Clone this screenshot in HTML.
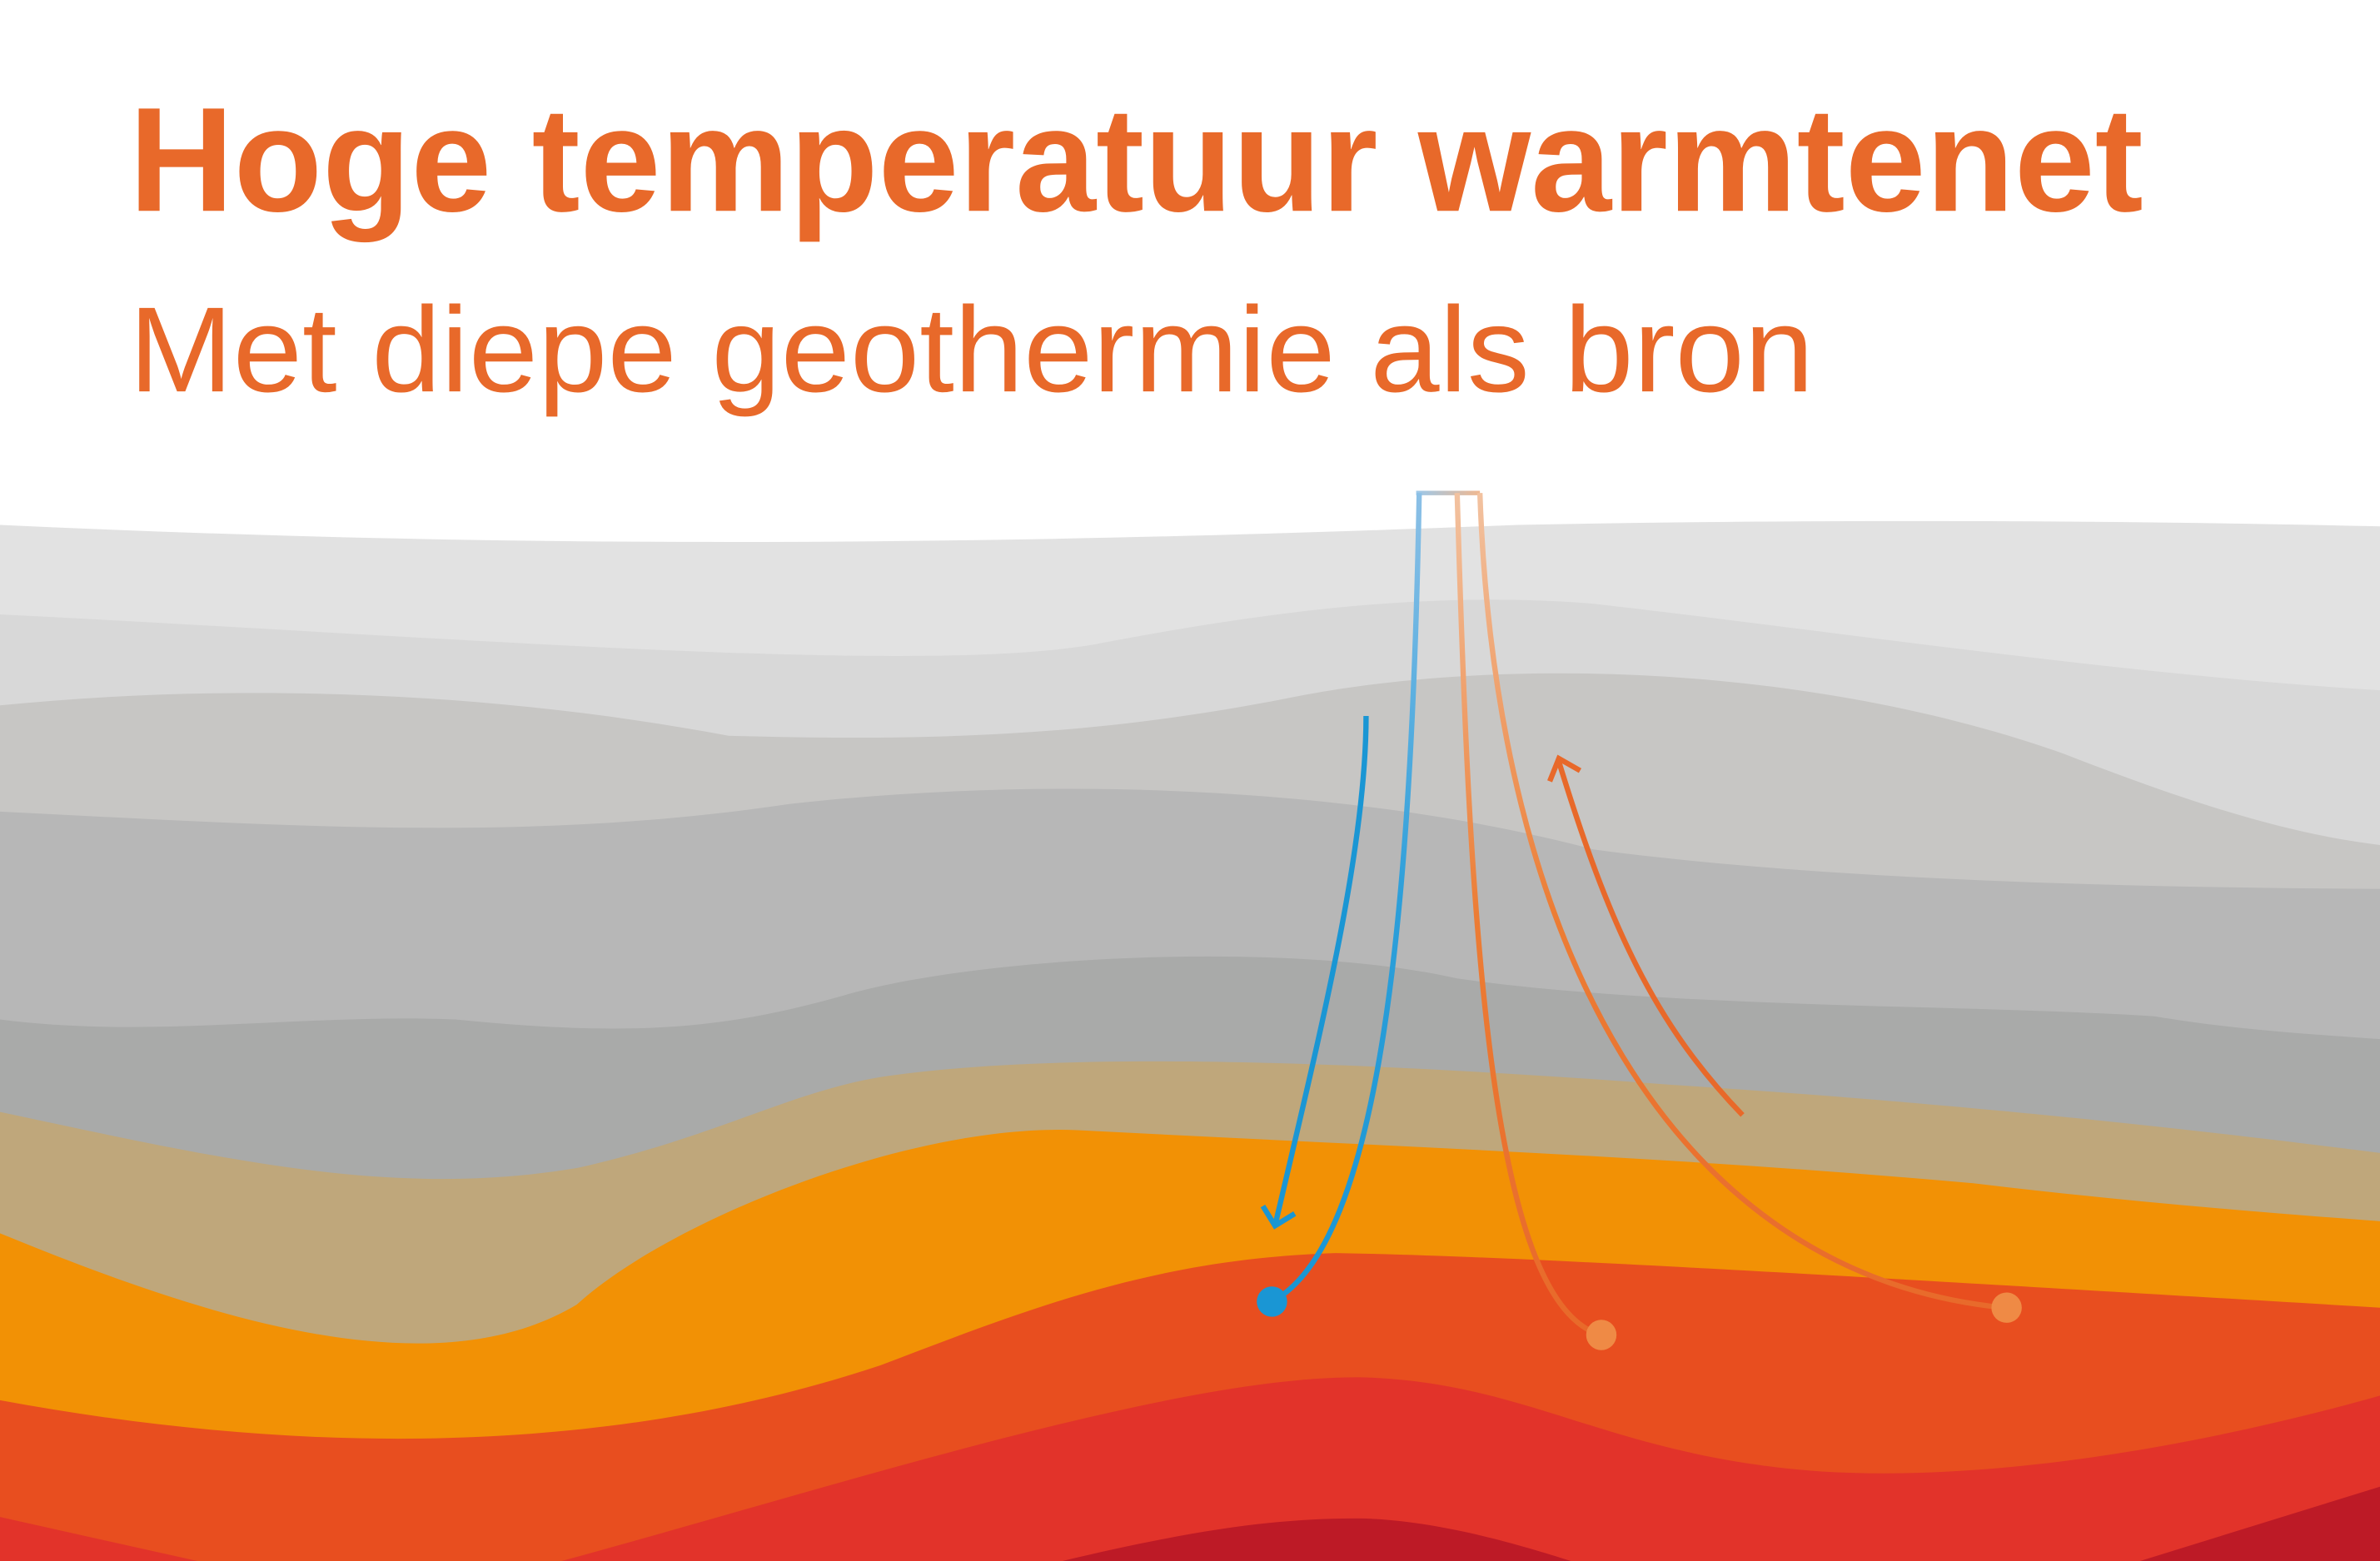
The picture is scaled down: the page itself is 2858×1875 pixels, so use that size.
<!DOCTYPE html>
<html><head><meta charset="utf-8"><style>
html,body{margin:0;padding:0;background:#fff;}
svg{display:block;}
</style></head><body>
<svg width="2858" height="1875" viewBox="0 0 1568 1029" preserveAspectRatio="none" xmlns="http://www.w3.org/2000/svg">
<defs>
<linearGradient id="gBlue" x1="0" y1="325" x2="0" y2="860" gradientUnits="userSpaceOnUse"><stop offset="0" stop-color="#8cc0e6"/><stop offset="0.5" stop-color="#2d9fda"/><stop offset="1" stop-color="#1a96d4"/></linearGradient>
<linearGradient id="gOr" x1="0" y1="325" x2="0" y2="880" gradientUnits="userSpaceOnUse"><stop offset="0" stop-color="#f2c2a0"/><stop offset="0.5" stop-color="#ec7d35"/><stop offset="1" stop-color="#e8692a"/></linearGradient>
<linearGradient id="gPipe" x1="933" y1="0" x2="975" y2="0" gradientUnits="userSpaceOnUse"><stop offset="0" stop-color="#9cc8ea"/><stop offset="1" stop-color="#f0b890"/></linearGradient>
</defs>
<rect width="1568" height="1029" fill="#fff"/>
<text x="85" y="139" font-family="Liberation Sans, sans-serif" font-weight="bold" font-size="98" fill="#e8692a" textLength="1327" lengthAdjust="spacingAndGlyphs">Hoge temperatuur warmtenet</text>
<text x="85" y="258" font-family="Liberation Sans, sans-serif" font-size="80" fill="#e8692a" textLength="1110" lengthAdjust="spacingAndGlyphs">Met diepe geothermie als bron</text>

<path fill="#e2e2e2" d="M0,346 C300,360 600,362 1000,346 C1200,342 1400,343 1568,347 L1568,1029 L0,1029Z"/>
<path fill="#d8d8d8" d="M0,405 C300,420 600,445 720,425 C850,400 950,390 1050,398 C1200,415 1400,445 1568,455 L1568,1029 L0,1029Z"/>
<path fill="#c7c6c4" d="M0,465 C150,450 320,455 480,485 C650,490 750,480 860,458 C1000,432 1200,440 1360,497 C1450,532 1510,550 1568,557 L1568,1029 L0,1029Z"/>
<path fill="#b7b7b7" d="M0,535 C200,545 350,555 520,530 C700,510 900,520 1050,560 C1200,580 1400,585 1568,586 L1568,1029 L0,1029Z"/>
<path fill="#a9aaa9" d="M0,672 C100,685 200,668 300,672 C420,684 480,678 560,655 C650,630 850,620 960,645 C1100,665 1300,662 1420,670 C1480,680 1530,682 1568,685 L1568,1029 L0,1029Z"/>
<path fill="#bfa77b" d="M0,733 C150,765 260,790 380,770 C470,750 520,720 580,710 C700,692 900,700 1100,715 C1300,728 1450,745 1568,760 L1568,1029 L0,1029Z"/>
<path fill="#f29105" d="M0,813 C120,862 280,920 380,860 C440,805 600,740 710,745 C900,755 1100,762 1300,780 C1400,792 1500,800 1568,805 L1568,1029 L0,1029Z"/>
<path fill="#e84e1f" d="M0,923 C200,960 400,960 580,900 C680,862 760,830 880,826 C1000,828 1200,840 1568,862 L1568,1029 L0,1029Z"/>
<path fill="#e2332a" d="M0,1000 L130,1029 L0,1029Z M370,1029 C550,980 780,905 900,908 C1010,912 1060,960 1200,970 C1330,978 1480,945 1568,920 L1568,1029Z"/>
<path fill="#bd1a26" d="M700,1029 C780,1010 840,1000 900,1001 C950,1003 1000,1018 1035,1029Z M1410,1029 L1568,980 L1568,1029Z"/>

<path d="M933,325 L975,325" stroke="url(#gPipe)" stroke-width="3" fill="none"/>
<path d="M935,325 C930,600 910,820 838,858" stroke="url(#gBlue)" stroke-width="3.5" fill="none"/>
<circle cx="838" cy="858" r="10" fill="#1a96d4"/>
<path d="M960,325 C968,600 980,860 1055,880" stroke="url(#gOr)" stroke-width="3.5" fill="none"/>
<circle cx="1055" cy="880" r="10" fill="#ef8a45"/>
<path d="M975,325 C985,620 1100,840 1320,862" stroke="url(#gOr)" stroke-width="3.5" fill="none"/>
<circle cx="1322" cy="862" r="10" fill="#ef8a45"/>
<path d="M900,472 C900,560 870,680 840,808 M832,795 L840,808 L853,800" stroke="#1a96d4" stroke-width="3.5" fill="none"/>
<path d="M1148,735 C1090,675 1060,610 1027,502 M1021,515 L1027,500 L1041,508" stroke="#e8692a" stroke-width="3.5" fill="none"/>
</svg>
</body></html>
